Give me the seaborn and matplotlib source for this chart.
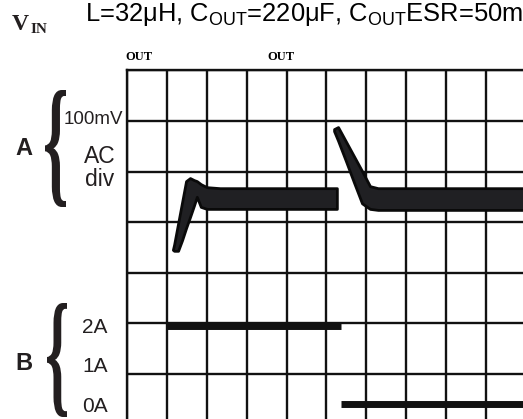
import matplotlib
matplotlib.use("Agg")
import matplotlib.pyplot as plt
import seaborn as sns
import pandas as pd
from matplotlib.textpath import TextPath
from matplotlib.patches import PathPatch
from matplotlib.font_manager import FontProperties
from matplotlib.transforms import Affine2D, IdentityTransform

# --- data (x in time divisions, V in mV AC, I in A) ---
v1_t = [1.15, 1.18, 1.28, 1.38, 1.48, 1.58, 1.68, 1.75, 1.85, 2.00, 2.33, 5.26]
v1_top = [-55, -45, -3, 39, 81, 87, 83, 81, 75, 69, 67, 67]
v1_bot = [-55, -57, -57, -36, -12, 10, 33, 50, 30, 26, 26, 26]

v2_t = [5.19, 5.29, 5.49, 5.69, 5.89, 6.09, 6.29, 10.2]
v2_top = [184, 188, 159, 130, 101, 71, 67, 67]
v2_bot = [180, 161, 120, 78, 37, 26, 24, 24]

load_t = [1.0, 5.36, 5.36, 10.2]
load_a = [2, 2, 0, 0]
load_seg = ["on", "on", "off", "off"]

amp_ticks = [0, 1, 2]
amp_labels = ["0A", "1A", "2A"]

W, H = 523, 419
INK = "#231f20"

sns.set_theme(style="white")
plt.rcParams["font.family"] = ["Liberation Sans", "DejaVu Sans"]
plt.rcParams["mathtext.fontset"] = "custom"
plt.rcParams["mathtext.rm"] = "Liberation Sans"

fig = plt.figure(figsize=(W / 100, H / 100), dpi=100)
ax = fig.add_axes([127 / W, 0, 396 / W, 348.5 / H])

def fx(x):
    return x / W

def fy(y):
    return 1 - y / H

# grid
ax.set_xlim(0, 9.925)
ax.set_ylim(-390, 300)
ax.set_xticks(range(0, 10))
ax.set_yticks(range(-300, 301, 100))
ax.grid(True, color="#111111", lw=1.7)
ax.set_axisbelow(True)
ax.tick_params(length=0, labelleft=False, labelbottom=False)
for s in ["right", "bottom"]:
    ax.spines[s].set_visible(False)
for s in ["left", "top"]:
    ax.spines[s].set_color("#111111")
    ax.spines[s].set_linewidth(1.7)

# output voltage trace (thick scope band)
for t, top, bot in [(v1_t, v1_top, v1_bot), (v2_t, v2_top, v2_bot)]:
    ax.fill_between(t, bot, top, facecolor="#202023", edgecolor="#0a0a0a",
                    lw=2, joinstyle="round", zorder=3)

# load current
ax2 = ax.twinx()
ax2.set_ylim(-0.382, 8.51)
df = pd.DataFrame({"t": load_t, "a": load_a, "seg": load_seg})
sns.lineplot(data=df, x="t", y="a", units="seg", estimator=None, color="#111111",
             lw=5, solid_capstyle="butt", legend=False, ax=ax2)
ax2.set_xlim(0, 9.925)
ax2.set_xlabel("")
ax2.set_ylabel("")
ax2.set_yticks(amp_ticks)
ax2.set_yticklabels(amp_labels)
ax2.yaxis.set_ticks_position("left")
ax2.tick_params(axis="y", length=0, pad=14, labelsize=15, labelcolor=INK,
                labelleft=True, labelright=False)
ax2.grid(False)
for s in ax2.spines.values():
    s.set_visible(False)

# titles
fig.text(fx(12), fy(30), "V", fontsize=17, fontweight="bold",
         family="Liberation Serif", color=INK, va="baseline")
fig.text(fx(31), fy(33), "IN", fontsize=11, fontweight="bold",
         family="Liberation Serif", color=INK, va="baseline")
fig.text(fx(85), fy(21),
         r"L=32μH, C$_{\mathrm{OUT}}$=220μF, C$_{\mathrm{OUT}}$ESR=50m",
         fontsize=18.4, color="black", va="baseline")
for x in [125, 267]:
    fig.text(fx(x), fy(60), "OUT", fontsize=9, fontweight="bold",
             family="Liberation Serif", color="black", va="baseline")

# channel labels
fig.text(fx(24), fy(155), "A", fontsize=17, fontweight="bold", color=INK,
         ha="center", va="baseline")
fig.text(fx(24), fy(370), "B", fontsize=17, fontweight="bold", color=INK,
         ha="center", va="baseline")
fig.text(fx(123), fy(124), "100mV", fontsize=13.5,
         family=["Liberation Sans Narrow", "Liberation Sans"], color=INK,
         ha="right", va="baseline")
fig.text(fx(100), fy(163), "AC", fontsize=16.5, color=INK, ha="center",
         va="baseline")
fig.text(fx(100), fy(186), "div", fontsize=16.5, color=INK, ha="center",
         va="baseline")


def brace(x0, y0, x1, y1):
    fp = FontProperties(family="Liberation Serif", weight="bold")
    tp = TextPath((0, 0), "{", size=100, prop=fp)
    ext = tp.get_extents()
    tr = (Affine2D().translate(-ext.x0, -ext.y0)
          .scale((x1 - x0) / ext.width, (y1 - y0) / ext.height)
          .translate(x0, H - y1))
    fig.add_artist(PathPatch(tr.transform_path(tp), facecolor=INK,
                             edgecolor="none", transform=IdentityTransform()))


brace(45, 90, 66, 207)
brace(47, 303, 67, 417)

fig.savefig("out.png", dpi=100)
